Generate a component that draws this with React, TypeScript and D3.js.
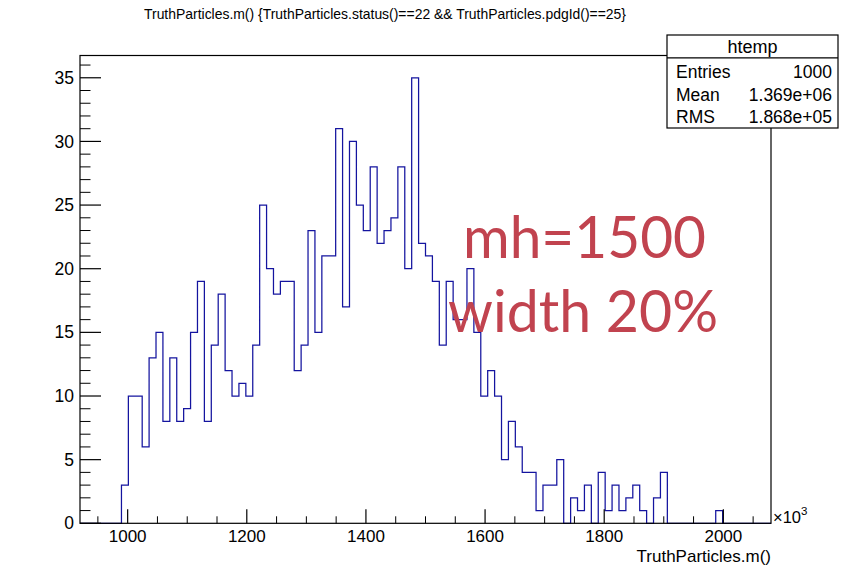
import React from "react";
import * as d3 from "d3";

// Histogram binning (ROOT "htemp", 100 bins) and bin contents
const X_MIN = 920;
const X_MAX = 2080;
const N_BINS = 100;
const binCounts = [
  0, 0, 0, 0, 0, 0,
  3, 10, 10, 6, 13, 15, 8, 13, 8, 9, 15, 19, 8, 14, 18, 12, 10, 11, 10, 14, 25, 20, 18,
  19, 19, 12, 14, 23, 15, 21, 21, 31, 17, 30, 25, 23, 28, 22, 23, 24, 28, 20, 35, 22, 21, 19, 14, 19, 16, 16, 20, 15,
  10, 12, 10, 5, 8, 6, 4, 4, 1, 3, 3, 5, 0, 2, 1, 3, 0, 4, 1, 3, 1, 2, 3, 1, 0, 2, 4,
  0, 0, 0, 0, 0, 0, 0,
  1,
  0, 0, 0, 0, 0, 0, 0,
];
const Y_MAX = 36.75;

const xMajorTicks = [1000, 1200, 1400, 1600, 1800, 2000];
const xMinorTicks = [950, 1050, 1100, 1150, 1250, 1300, 1350, 1450, 1500, 1550, 1650, 1700, 1750, 1850, 1900, 1950, 2050];
const yMajorTicks = [0, 5, 10, 15, 20, 25, 30, 35];

const titleText = "TruthParticles.m() {TruthParticles.status()==22 && TruthParticles.pdgId()==25}";
const xAxisTitle = "TruthParticles.m()";
const histName = "htemp";
const statLabels = ["Entries", "Mean", "RMS"];
const statValues = ["1000", "1.369e+06", "1.868e+05"];
const noteLines = ["mh=1500", "width 20%"];

const W = 867;
const H = 567;
const frame = { left: 80, right: 771, top: 55.5, bottom: 523.3 };
const ROOT_FONT = "'Liberation Sans', Arial, Helvetica, sans-serif";

export default function App() {
  const x = d3.scaleLinear().domain([X_MIN, X_MAX]).range([frame.left, frame.right]);
  const y = d3.scaleLinear().domain([0, Y_MAX]).range([frame.bottom, frame.top]);

  const binWidth = (X_MAX - X_MIN) / N_BINS;
  const pts: [number, number][] = [[X_MIN, 0]];
  binCounts.forEach((c, i) => {
    const lo = X_MIN + i * binWidth;
    const hi = lo + binWidth;
    pts.push([lo, c], [hi, c]);
  });
  pts.push([X_MAX, 0]);
  const histPath = d3
    .line<[number, number]>()
    .x((d) => x(d[0]))
    .y((d) => y(d[1]))(pts) as string;

  const yMinor = d3.range(0, Math.floor(Y_MAX) + 1).filter((v) => v % 5 !== 0);

  const box = { x0: 667, y0: 35, x1: 838, y1: 128 };
  const rowBase = [78.3, 101, 123.3];

  return (
    <svg
      width={W}
      height={H}
      viewBox={`0 0 ${W} ${H}`}
      style={{ position: "absolute", left: 0, top: 0, background: "#fff" }}
    >
      <rect x={0} y={0} width={W} height={H} fill="#fff" />

      {/* title */}
      <text
        x={144}
        y={19}
        fontFamily={ROOT_FONT}
        fontSize={15}
        textLength={482}
        lengthAdjust="spacingAndGlyphs"
        fill="#000"
      >
        {titleText}
      </text>

      {/* histogram outline */}
      <path d={histPath} fill="none" stroke="#14149f" strokeWidth={1.25} />

      {/* frame */}
      <rect
        x={frame.left}
        y={frame.top}
        width={frame.right - frame.left}
        height={frame.bottom - frame.top}
        fill="none"
        stroke="#000"
        strokeWidth={1.2}
      />

      {/* y axis ticks and labels */}
      {yMajorTicks.map((v) => (
        <g key={`ym${v}`}>
          <line x1={frame.left} x2={frame.left + 21} y1={y(v)} y2={y(v)} stroke="#000" strokeWidth={1.2} />
          <text
            x={74}
            y={y(v)}
            dy="0.35em"
            textAnchor="end"
            fontFamily={ROOT_FONT}
            fontSize={17.5}
            fill="#000"
          >
            {v}
          </text>
        </g>
      ))}
      {yMinor.map((v) => (
        <line key={`yn${v}`} x1={frame.left} x2={frame.left + 10.5} y1={y(v)} y2={y(v)} stroke="#000" strokeWidth={1} />
      ))}

      {/* x axis ticks and labels */}
      {xMajorTicks.map((v) => (
        <g key={`xm${v}`}>
          <line x1={x(v)} x2={x(v)} y1={frame.bottom} y2={frame.bottom - 14} stroke="#000" strokeWidth={1.2} />
          <text
            x={x(v)}
            y={542.3}
            textAnchor="middle"
            fontFamily={ROOT_FONT}
            fontSize={17}
            fill="#000"
          >
            {v}
          </text>
        </g>
      ))}
      {xMinorTicks.map((v) => (
        <line key={`xn${v}`} x1={x(v)} x2={x(v)} y1={frame.bottom} y2={frame.bottom - 7} stroke="#000" strokeWidth={1} />
      ))}

      {/* exponent marker */}
      <text x={773} y={523} fontFamily={ROOT_FONT} fontSize={16.5} fill="#000">
        ×10
        <tspan fontSize={11.5} dy={-8}>
          3
        </tspan>
      </text>

      {/* x axis title */}
      <text x={771} y={562} textAnchor="end" fontFamily={ROOT_FONT} fontSize={17} fill="#000">
        {xAxisTitle}
      </text>

      {/* statistics box */}
      <rect
        x={box.x0}
        y={box.y0}
        width={box.x1 - box.x0}
        height={box.y1 - box.y0}
        fill="#fff"
        stroke="#000"
        strokeWidth={1.2}
      />
      <line x1={box.x0} x2={box.x1} y1={57.8} y2={57.8} stroke="#000" strokeWidth={1.2} />
      <text
        x={(box.x0 + box.x1) / 2}
        y={53.3}
        textAnchor="middle"
        fontFamily={ROOT_FONT}
        fontSize={18}
        fill="#000"
      >
        {histName}
      </text>
      {statLabels.map((lab, i) => (
        <g key={lab}>
          <text x={676} y={rowBase[i]} fontFamily={ROOT_FONT} fontSize={17.5} fill="#000">
            {lab}
          </text>
          <text x={832} y={rowBase[i]} textAnchor="end" fontFamily={ROOT_FONT} fontSize={17.5} fill="#000">
            {statValues[i]}
          </text>
        </g>
      ))}

      {/* annotation */}
      <text
        x={463}
        y={258.3}
        fontFamily="Lato, 'Open Sans', sans-serif"
        fontSize={58}
        textLength={243}
        lengthAdjust="spacingAndGlyphs"
        fill="#c1434f"
      >
        {noteLines[0]}
      </text>
      <text
        x={448}
        y={331.7}
        fontFamily="Lato, 'Open Sans', sans-serif"
        fontSize={58}
        textLength={270}
        lengthAdjust="spacingAndGlyphs"
        fill="#c1434f"
      >
        {noteLines[1]}
      </text>
    </svg>
  );
}
